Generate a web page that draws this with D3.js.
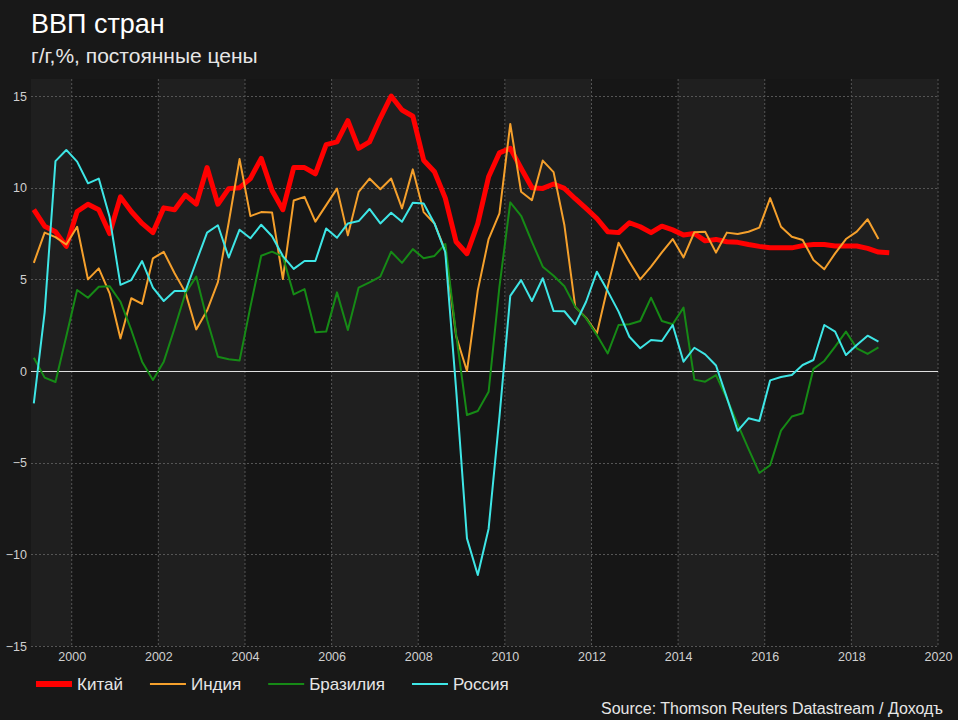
<!DOCTYPE html>
<html>
<head>
<meta charset="utf-8">
<script src="https://cdn.jsdelivr.net/npm/d3@7"></script>
<style>
  html, body { margin: 0; padding: 0; background: #181818; }
  svg { display: block; }
  text { font-family: Arial, "Liberation Sans", sans-serif; }
</style>
</head>
<body>
<div id="chart"></div>
<script>
// ---- Data (quarterly, y/y %, from 1999Q1) ----
const startYear = 1999;
const seriesNames = ["Китай", "Индия", "Бразилия", "Россия"];
const china = [8.8,7.9,7.6,6.8, 8.7,9.1,8.8,7.5, 9.5,8.7,8.05,7.55, 8.9,8.8,9.6,9.1,
  11.1,9.1,9.95,10.0, 10.5,11.6,9.85,8.8, 11.1,11.1,10.76,12.35, 12.5,13.66,12.15,12.5,
  13.8,15.0,14.24,13.9, 11.5,10.87,9.43,7.05, 6.4,8.04,10.6,11.9, 12.15,11.06,10.0,9.96,
  10.2,9.96,9.4,8.87, 8.32,7.6,7.55,8.09, 7.87,7.55,7.9,7.7, 7.42,7.5,7.1,7.18,
  7.05,7.02,6.9,6.8, 6.72,6.72,6.72,6.84, 6.9,6.9,6.82,6.82, 6.82,6.69,6.49,6.45];
const india = [5.9,7.55,7.3,6.9, 7.87,5.0,5.6,4.24, 1.78,3.97,3.66,6.15, 6.5,5.33,4.29,2.27,
  3.3,4.85,8.1,11.56, 8.45,8.67,8.65,5.02, 9.3,9.5,8.15,9.05, 9.95,7.4,9.77,10.5,
  9.92,10.5,8.87,11.0, 8.67,8.05,6.55,1.9, 0.0,4.4,7.2,8.6, 13.48,9.78,9.32,11.48,
  10.85,7.95,3.5,2.9, 2.05,4.6,7.0,5.96, 5.0,5.7,6.47,7.2, 6.2,7.57,7.6,6.46,
  7.55,7.47,7.6,7.82, 9.43,7.87,7.32,7.15, 6.06,5.55,6.42,7.2, 7.6,8.28,7.2];
const brazil = [0.72,-0.36,-0.6,1.9, 4.42,4.0,4.6,4.63, 3.78,2.24,0.51,-0.49, 0.51,2.33,4.24,5.15,
  2.8,0.78,0.64,0.57, 3.5,6.29,6.51,6.24, 4.18,4.47,2.11,2.15, 4.29,2.24,4.55,4.84,
  5.15,6.51,5.9,6.65, 6.15,6.28,6.93,2.0, -2.4,-2.18,-1.13,4.6, 9.2,8.47,7.05,5.69,
  5.2,4.62,3.5,2.87, 1.96,0.96,2.51,2.55, 2.73,4.0,2.73,2.55, 3.46,-0.47,-0.58,-0.22,
  -1.5,-2.9,-4.25,-5.56, -5.14,-3.25,-2.48,-2.3, 0.12,0.55,1.33,2.15, 1.24,0.93,1.29];
const russia = [-1.76,3.2,11.45,12.06, 11.42,10.24,10.5,8.4, 4.7,4.96,6.0,4.55, 3.82,4.36,4.36,5.96,
  7.55,7.95,6.19,7.71, 7.24,7.98,7.35,6.27, 5.57,6.0,6.0,7.78, 7.27,8.05,8.18,8.84,
  8.05,8.63,8.14,9.18, 9.14,8.05,6.48,-1.0, -9.13,-11.13,-8.6,-2.5, 4.1,4.96,3.82,5.06,
  3.27,3.26,2.55,3.78, 5.42,4.36,3.24,1.87, 1.24,1.69,1.64,2.51, 0.51,1.27,0.91,0.3,
  -1.45,-3.26,-2.58,-2.73, -0.51,-0.33,-0.22,0.33, 0.6,2.51,2.15,0.87, 1.42,1.93,1.6];
const xTicks = [2000,2002,2004,2006,2008,2010,2012,2014,2016,2018,2020];
const yTicks = [-15,-10,-5,0,5,10,15];
const titleText = "ВВП стран";
const subtitleText = "г/г,%, постоянные цены";
const sourceText = "Source: Thomson Reuters Datastream / Доходъ";

// ---- Styles ----
const colors = ["#ff0000", "#f5a02c", "#168a16", "#3ee6e6"];
const widths = [5, 2, 2, 2];
const allSeries = [china, india, brazil, russia];

const W = 958, H = 720;
const svg = d3.select("#chart").append("svg").attr("width", W).attr("height", H);
svg.append("rect").attr("width", W).attr("height", H).attr("fill", "#181818");

const x = d3.scaleLinear().domain([1999.06, 2020]).range([31, 938]);
const y = d3.scaleLinear().domain([-15, 15.93]).range([646, 79]);

// quarter -> mid-quarter decimal year
const qx = i => startYear + Math.floor(i / 4) + ((i % 4) + 0.5) / 4;

// background bands
const edges = [x.domain()[0]].concat(xTicks);
const bands = d3.range(edges.length - 1).map(k => ({a: edges[k], b: edges[k + 1], light: k % 2 === 0}));
svg.append("g").selectAll("rect").data(bands).join("rect")
  .attr("x", d => x(d.a)).attr("width", d => x(d.b) - x(d.a))
  .attr("y", y.range()[1]).attr("height", y.range()[0] - y.range()[1])
  .attr("fill", d => d.light ? "#1f1f1f" : "#161616");

// grid
const grid = svg.append("g");
grid.selectAll("line.v").data(xTicks).join("line").attr("class", "v")
  .attr("x1", d => x(d)).attr("x2", d => x(d))
  .attr("y1", y.range()[1]).attr("y2", y.range()[0])
  .attr("stroke", "#555").attr("stroke-width", 1).attr("stroke-dasharray", "2,2");
grid.selectAll("line.h").data(yTicks.filter(d => d !== 0)).join("line").attr("class", "h")
  .attr("x1", x.range()[0]).attr("x2", x.range()[1])
  .attr("y1", d => Math.round(y(d)) + 0.5).attr("y2", d => Math.round(y(d)) + 0.5)
  .attr("stroke", "#555").attr("stroke-width", 1).attr("stroke-dasharray", "2,2");
grid.append("line")
  .attr("x1", x.range()[0]).attr("x2", x.range()[1])
  .attr("y1", Math.round(y(0)) + 0.5).attr("y2", Math.round(y(0)) + 0.5)
  .attr("stroke", "#e0e0e0").attr("stroke-width", 1);

// axes via d3
const yAxis = d3.axisLeft(y).tickValues(yTicks).tickSize(0).tickPadding(4);
const gy = svg.append("g").attr("transform", "translate(31,0)").call(yAxis);
const xAxis = d3.axisBottom(x).tickValues(xTicks).tickSize(0).tickPadding(6).tickFormat(d3.format("d"));
const gx = svg.append("g").attr("transform", "translate(0,646)").call(xAxis);
[gx, gy].forEach(g => {
  g.select(".domain").remove();
  g.selectAll("text").attr("fill", "#d0d0d0").style("font-size", "12.5px")
    .style("font-family", "Arial, 'Liberation Sans', sans-serif");
});

// lines
const line = d3.line().x((d, i) => x(qx(i))).y(d => y(d));
allSeries.forEach((s, k) => {
  svg.append("path").datum(s)
    .attr("d", line)
    .attr("fill", "none")
    .attr("stroke", colors[k])
    .attr("stroke-width", widths[k])
    .attr("stroke-linejoin", "round");
});

// titles
svg.append("text").attr("x", 31).attr("y", 33).text(titleText)
  .attr("fill", "#ffffff").style("font-size", "27px");
svg.append("text").attr("x", 31).attr("y", 63).text(subtitleText)
  .attr("fill", "#e6e6e6").style("font-size", "21px");

// legend
const lg = svg.append("g");
let lx = 36;
seriesNames.forEach((name, k) => {
  lg.append("line").attr("x1", lx).attr("x2", lx + 36).attr("y1", 684).attr("y2", 684)
    .attr("stroke", colors[k]).attr("stroke-width", k === 0 ? 6 : 2);
  const t = lg.append("text").attr("x", lx + 41).attr("y", 690).text(name)
    .attr("fill", "#e6e6e6").style("font-size", "17px");
  lx = lx + 41 + t.node().getComputedTextLength() + 27;
});

// source
svg.append("text").attr("x", 943).attr("y", 714).attr("text-anchor", "end").text(sourceText)
  .attr("fill", "#e6e6e6").style("font-size", "16px");
</script>
</body>
</html>
